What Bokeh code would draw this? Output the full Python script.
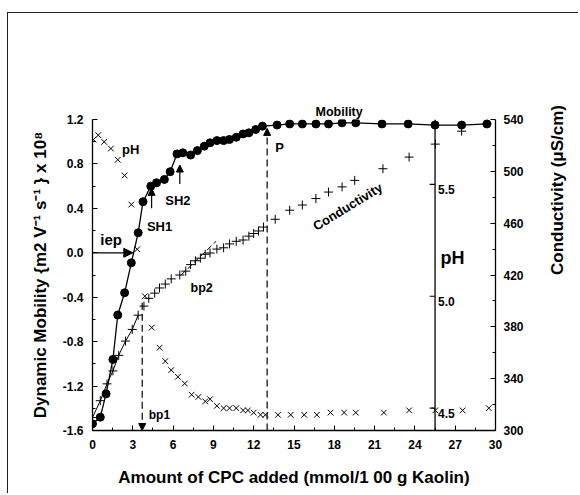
from bokeh.plotting import figure
from bokeh.models import (Range1d, LinearAxis, FixedTicker, PrintfTickFormatter,
                          Arrow, NormalHead, Label, Title)
from bokeh.embed import file_html
from bokeh.resources import INLINE
from bokeh.core.properties import value
import math

# ---------------- data ----------------
mob_amount = [0, 0.58, 1.01, 1.52, 1.88, 2.39, 2.89, 3.4, 3.76, 4.34, 4.77, 5.35, 5.78,
              6.29, 6.72, 7.3, 7.81, 8.32, 8.75, 9.26, 9.76, 10.19, 10.7, 11.21, 11.64,
              12.15, 12.65, 13.74, 14.68, 15.62, 16.63, 17.57, 18.58, 19.6, 21.55, 23.5,
              25.5, 27.48, 29.36]
mobility = [-1.54, -1.48, -1.27, -0.96, -0.56, -0.36, -0.09, 0.18, 0.46, 0.60, 0.63, 0.66,
            0.73, 0.89, 0.90, 0.88, 0.92, 0.96, 0.99, 1.01, 1.01, 1.02, 1.04, 1.07, 1.08,
            1.11, 1.14, 1.15, 1.16, 1.16, 1.16, 1.16, 1.17, 1.17, 1.16, 1.16, 1.15, 1.15, 1.16]

cond_amount = [0, 0.58, 1.08, 1.52, 1.95, 2.46, 2.96, 3.4, 3.83, 4.19, 4.63, 4.99, 5.42,
               5.86, 6.5, 6.94, 7.3, 7.66, 8.03, 8.39, 8.75, 9.26, 9.76, 10.2, 10.7, 11.21,
               11.64, 12.0, 12.36, 12.73, 13.6, 14.68, 15.62, 16.63, 17.57, 18.58, 19.52,
               21.62, 23.57, 25.52, 27.48, 29.36]
conductivity = [310, 323, 336, 346, 358, 369, 378, 389, 396, 402, 406, 410, 413, 417, 420,
                423, 428, 431, 433, 436, 437, 440, 441, 444, 446, 447, 450, 452, 454, 457,
                463, 470, 474, 479, 484, 488, 493, 502, 511, 521, 531, 537]

ph_amount = [0.07, 0.43, 0.87, 1.37, 1.88, 2.39, 2.89, 3.33, 3.9, 4.41, 4.99, 5.42, 5.86,
             6.36, 6.87, 7.38, 7.88, 8.39, 8.75, 9.26, 9.76, 10.2, 10.7, 11.21, 11.57, 12.0,
             12.51, 12.87, 13.81, 14.75, 15.76, 16.7, 17.72, 18.73, 19.6, 21.69, 23.57,
             25.52, 27.55, 29.5]
ph = [5.70, 5.72, 5.69, 5.66, 5.61, 5.54, 5.41, 5.21, 5.00, 4.86, 4.77, 4.71, 4.67, 4.64,
      4.61, 4.56, 4.55, 4.53, 4.54, 4.51, 4.50, 4.50, 4.50, 4.49, 4.49, 4.48, 4.47, 4.47,
      4.47, 4.47, 4.47, 4.47, 4.48, 4.48, 4.48, 4.48, 4.49, 4.49, 4.49, 4.50]

# initial conductivity fit (first points) and the bp2 tangent
cond_fit_amount = cond_amount[:8]
cond_fit_values = conductivity[:8]
bp2_tangent_amount = [6.6, 9.2]
bp2_tangent_values = [420, 446]

x_ticks = [0, 3, 6, 9, 12, 15, 18, 21, 24, 27, 30]
x_minor = [1.5, 4.5, 7.5, 10.5, 13.5, 16.5, 19.5, 22.5, 25.5, 28.5]
mob_ticks = [-1.6, -1.2, -0.8, -0.4, 0.0, 0.4, 0.8, 1.2]
mob_minor = [-1.4, -1.0, -0.6, -0.2, 0.2, 0.6, 1.0]
cond_ticks = [300, 340, 380, 420, 460, 500, 540]
cond_minor = [320, 360, 400, 440, 480, 520]
ph_ticks = [4.5, 5.0, 5.5]
ph_tick_labels = ["4.5", "5.0", "5.5"]
ph_axis_at = 25.5

FONT = "Liberation Sans"

p = figure(width=571, height=481, output_backend="svg", toolbar_location=None,
           x_range=Range1d(0, 30), y_range=Range1d(-1.6, 1.2),
           min_border_left=84, min_border_right=72, min_border_top=106, min_border_bottom=64)
p.margin = (12, 0, 0, 7)
p.styles = {"border-top": "1.5px solid #222", "border-left": "1.5px solid #222"}
p.extra_y_ranges = {"cond": Range1d(300, 540), "ph": Range1d(4.40, 5.79)}
p.grid.visible = False
p.outline_line_color = None
p.background_fill_color = "white"
p.border_fill_color = "white"

def style_axis(ax):
    ax.axis_line_color = "black"
    ax.axis_line_width = 1.3
    ax.major_tick_in = 5
    ax.major_tick_out = 0
    ax.minor_tick_in = 3
    ax.minor_tick_out = 0
    ax.major_tick_line_color = "black"
    ax.minor_tick_line_color = "black"
    ax.major_label_text_font = FONT
    ax.major_label_text_font_style = "bold"
    ax.major_label_text_font_size = "12px"
    ax.major_label_text_color = "black"
    ax.axis_label_text_font = FONT
    ax.axis_label_text_font_style = "bold"
    ax.axis_label_text_font_size = "17px"
    ax.axis_label_text_color = "black"

xa = p.xaxis[0]
xa.ticker = FixedTicker(ticks=x_ticks, minor_ticks=x_minor)
xa.axis_label = "Amount of CPC added (mmol/1 00 g Kaolin)"
style_axis(xa)
xa.major_label_standoff = 9
xa.axis_label_standoff = 16

ya = p.yaxis[0]
ya.ticker = FixedTicker(ticks=mob_ticks, minor_ticks=mob_minor)
ya.formatter = PrintfTickFormatter(format="%.1f")
ya.axis_label = "Dynamic Mobility {m2 V\u207b\u00b9 s\u207b\u00b9 } x 10\u2078"
style_axis(ya)
ya.major_label_standoff = 9
ya.axis_label_standoff = 10

ra = LinearAxis(y_range_name="cond", ticker=FixedTicker(ticks=cond_ticks, minor_ticks=cond_minor),
                axis_label="Conductivity (\u03bcS/cm)")
style_axis(ra)
ra.major_label_standoff = 8
ra.axis_label_standoff = 31
ra.axis_label_orientation = math.pi / 2
p.add_layout(ra, "right")

# "Mobility" caption sits just above the frame
p.add_layout(Title(text="Mobility", align="left", offset=223, standoff=1,
                   text_font=FONT, text_font_style="bold", text_font_size="12.5px",
                   text_color="black"), "above")

# inner pH axis
p.segment(x0=[ph_axis_at], y0=[4.40], x1=[ph_axis_at], y1=[5.79], y_range_name="ph",
          line_color="black", line_width=1.3)
p.segment(x0=[ph_axis_at - 0.4] * len(ph_ticks), y0=ph_ticks, x1=[ph_axis_at] * len(ph_ticks),
          y1=ph_ticks, y_range_name="ph", line_color="black", line_width=1.2)
p.text(x=[ph_axis_at] * len(ph_ticks), y=ph_ticks, text=ph_tick_labels, y_range_name="ph",
       x_offset=3, y_offset=5, text_baseline="middle", text_align="left",
       text_font=value(FONT), text_font_style="bold", text_font_size="12px", text_color="black")

# series
p.line(mob_amount, mobility, line_color="black", line_width=1.3)
p.scatter(mob_amount, mobility, marker="circle", size=8, fill_color="black", line_color="black")

p.line(cond_fit_amount, cond_fit_values, y_range_name="cond", line_color="black", line_width=1)
p.line(bp2_tangent_amount, bp2_tangent_values, y_range_name="cond", line_color="black",
       line_width=1, line_dash="6 3")
p.scatter(cond_amount, conductivity, y_range_name="cond", marker="cross", size=9,
          line_color="black", line_width=1)

p.scatter(ph_amount, ph, y_range_name="ph", marker="x", size=8, line_color="black", line_width=1)

# annotations
p.add_layout(Arrow(end=NormalHead(size=9, fill_color="black", line_color="black"),
                   x_start=0, y_start=0, x_end=3.0, y_end=0, line_width=1.3))
p.add_layout(Arrow(end=NormalHead(size=7, fill_color="black", line_color="black"),
                   x_start=4.4, y_start=0.40, x_end=4.4, y_end=0.58, line_width=1.2))
p.add_layout(Arrow(end=NormalHead(size=7, fill_color="black", line_color="black"),
                   x_start=6.5, y_start=0.62, x_end=6.5, y_end=0.79, line_width=1.2))
p.add_layout(Arrow(end=NormalHead(size=7, fill_color="black", line_color="black"),
                   x_start=13.0, y_start=-1.6, x_end=13.0, y_end=1.12, line_width=1.2,
                   line_dash="7 4"))
p.add_layout(Arrow(end=NormalHead(size=7, fill_color="black", line_color="black"),
                   x_start=3.7, y_start=-0.45, x_end=3.7, y_end=-1.6, line_width=1.2,
                   line_dash="7 4"))

def lab(x, y, t, size, angle=0.0):
    p.add_layout(Label(x=x, y=y, text=t, text_font=FONT, text_font_style="bold",
                       text_font_size=size, text_color="black", text_baseline="alphabetic",
                       text_align="left", angle=angle))

lab(2.2, 0.93, "pH", "13px")
lab(0.58, 0.12, "iep", "15px")
lab(4.05, 0.24, "SH1", "13px")
lab(5.42, 0.47, "SH2", "13px")
lab(13.6, 0.95, "P", "13px")
lab(4.19, -1.46, "bp1", "12px")
lab(7.3, -0.32, "bp2", "12.5px")
lab(16.5, 0.23, "Conductivity", "13px", angle=0.55)
lab(25.9, -0.05, "pH", "18px")

open("out.html", "w").write(file_html(p, INLINE))
